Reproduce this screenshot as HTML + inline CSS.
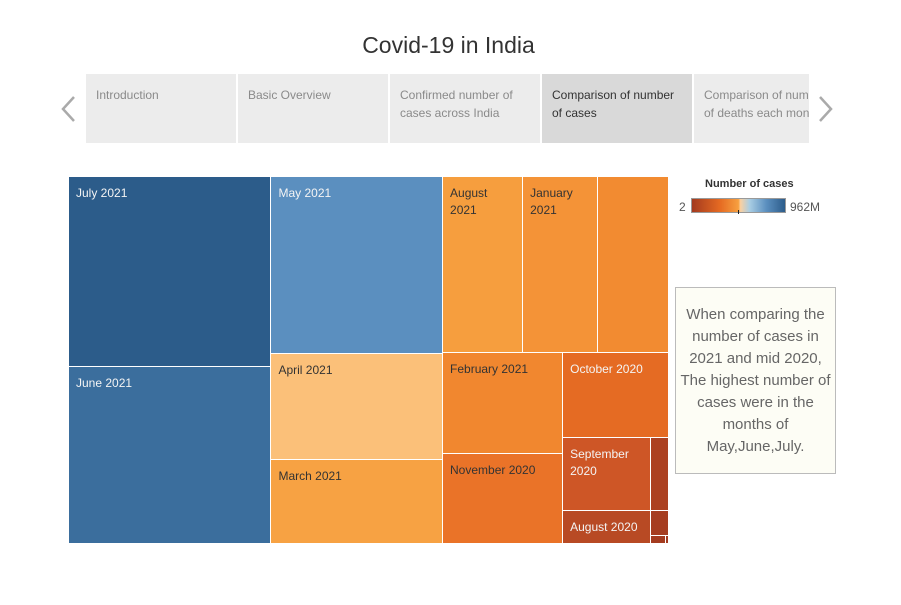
<!DOCTYPE html>
<html><head><meta charset="utf-8">
<style>
body{margin:0;width:901px;height:605px;background:#fff;font-family:"Liberation Sans",sans-serif;position:relative;overflow:hidden}
.abs{position:absolute}
.tab{position:absolute;top:74px;height:69px;background:#ececec;color:#8a8a8a;font-size:12px;line-height:18px;padding:12px 10px;box-sizing:border-box;overflow:hidden;white-space:nowrap}
.cell{position:absolute;box-sizing:border-box;border-right:1px solid #fff;border-bottom:1px solid #fff;font-size:12px;line-height:17px;overflow:hidden}
</style></head><body>
<div class="abs" style="left:0;width:897px;top:32px;text-align:center;font-size:23px;color:#333">Covid-19 in India</div>
<svg class="abs" style="left:58px;top:94px" width="22" height="30"><polyline points="16,3 5,15 16,27" fill="none" stroke="#aaa" stroke-width="2.5"/></svg>
<svg class="abs" style="left:815px;top:94px" width="22" height="30"><polyline points="5,3 16,15 5,27" fill="none" stroke="#aaa" stroke-width="2.5"/></svg>
<div class="tab" style="left:86px;width:150px">Introduction</div>
<div class="tab" style="left:238px;width:150px">Basic Overview</div>
<div class="tab" style="left:390px;width:150px">Confirmed number of<br>cases across India</div>
<div class="tab" style="left:542px;width:150px;background:#d9d9d9;color:#333">Comparison of number<br>of cases</div>
<div class="tab" style="left:694px;width:115px">Comparison of number<br>of deaths each month</div>

<div class="abs" style="left:705px;top:178px;font-size:11px;font-weight:bold;color:#333">Number of cases</div>
<div class="abs" style="left:679px;top:200px;font-size:12px;color:#555">2</div>
<div class="abs" style="left:691px;top:198px;width:95px;height:15px;box-sizing:border-box;border:1px solid #999;background:linear-gradient(to right,#a33a1f,#e56a22 30%,#f7a040 50%,#fbd0a0 52%,#a9cde3 62%,#5b8fbf 80%,#2c5c8a)"></div>
<div class="abs" style="left:738px;top:210px;width:1px;height:4px;background:#222"></div>
<div class="abs" style="left:790px;top:200px;font-size:12px;color:#555">962M</div>

<div class="abs" style="left:675px;top:287px;width:161px;height:187px;box-sizing:border-box;border:1px solid #bbb;background:#fdfdf5;color:#666;font-size:15px;line-height:22px;text-align:center;padding-top:16px">When comparing the number of cases in 2021 and mid 2020, The highest number of cases were in the months of May,June,July.</div>

<div id="tm" class="abs" style="left:69px;top:177px;width:600px;height:367px;overflow:hidden"></div>
<script>
const labels=["July 2021","June 2021","May 2021","April 2021","March 2021","August 2021","January 2021","December 2020","February 2021","November 2020","October 2020","September 2020","August 2020","July 2020","June 2020","May 2020","April 2020"];
const values=[38.4,35.6,30.3,18.0,14.4,14.0,13.1,12.4,12.1,10.8,9.0,6.4,2.9,1.3,0.45,0.12,0.02];
const showLabel=[1,1,1,1,1,1,1,0,1,1,1,1,1,0,0,0,0];
// layout tree: [direction, children] ; leaf = index
const tree=["h",[["v",[0,1]],["v",[2,3,4]],["v",[["h",[5,6,7]],["h",[["v",[8,9]],["v",[10,["h",[["v",[11,12]],["v",[13,14,["h",[15,16]]]]]]]]]]]]]];
const stops=[[0,[163,58,31]],[0.075,[184,74,36]],[0.17,[207,86,38]],[0.23,[229,106,34]],[0.28,[234,114,40]],[0.32,[242,138,48]],[0.37,[247,160,64]],[0.47,[251,192,122]],[0.5,[240,224,200]],[0.53,[181,211,232]],[0.79,[91,143,191]],[0.93,[58,109,156]],[1,[44,92,138]]];
const maxV=Math.max(...values);
function color(v){const t=v/maxV;for(let i=1;i<stops.length;i++){if(t<=stops[i][0]){const a=stops[i-1],b=stops[i],f=(t-a[0])/(b[0]-a[0]);return 'rgb('+a[1].map((c,k)=>Math.round(c+(b[1][k]-c)*f)).join(',')+')';}}return 'rgb(44,92,138)';}
function sum(n){return typeof n==='number'?values[n]:n[1].reduce((s,c)=>s+sum(c),0);}
const tm=document.getElementById('tm');
function lay(n,x,y,w,h){
 if(typeof n==='number'){
  const d=document.createElement('div');
  d.className='cell';
  
  
  d.style.left=x+'px';d.style.top=y+'px';d.style.width=w+'px';d.style.height=h+'px';
  d.style.background=color(values[n]);
  const t=values[n]/maxV;
  d.style.color=(t<0.25||t>0.6)?'#f4f4f4':'#333';
  if(showLabel[n]){d.textContent=labels[n];d.style.padding='8px 7px';}
  tm.appendChild(d);return;}
 const tot=sum(n);let off=0;
 n[1].forEach(c=>{const f=sum(c)/tot;
  if(n[0]==='h'){lay(c,x+off,y,w*f,h);off+=w*f;}else{lay(c,x,y+off,w,h*f);off+=h*f;}});
}
lay(tree,0,0,600,367);
</script>
</body></html>
